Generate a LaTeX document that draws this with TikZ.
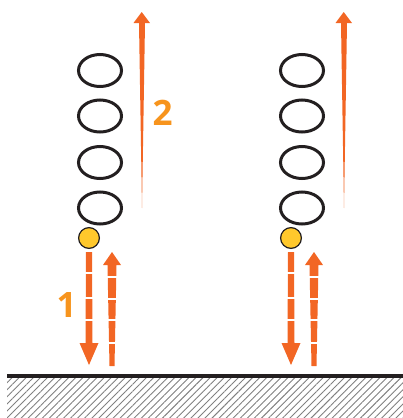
\documentclass[tikz,border=0pt]{standalone}
\usepackage{fontspec}
\setmainfont{Open Sans}
\usepackage{tikz}
\usetikzlibrary{arrows.meta, patterns.meta}
\usepackage{xcolor}

\definecolor{arroworange}{HTML}{F26624}
\definecolor{labelorange}{HTML}{F7941D}
\definecolor{balls}{HTML}{FFC82C}
\definecolor{ink}{HTML}{231F20}

\begin{document}
\begin{tikzpicture}[x=1pt, y=-1pt,
		ring/.style={draw=ink, line width=3pt},
		ball/.style={draw=ink, fill=balls, line width=1.2pt},
		beam/.style={fill=arroworange},
		gap/.style={white, line width=2pt},
		num/.style={text=labelorange, inner sep=0pt, font=\fontsize{35}{35}\selectfont\bfseries}]

			\useasboundingbox (0,0) rectangle (403,418);

			% ground
			\fill[pattern={Lines[angle=45, distance=5pt, line width=0.9pt]}, pattern color=gray] (7,378) rectangle (403,418);
			\draw[ink, line width=3.3pt] (7,376) -- (403,376);

			\begin{scope}
				\foreach \y in {70.5, 116, 162.5, 208}
					\draw[ring] (100,\y) ellipse (21.5 and 16);
				\draw[ball] (89,238) circle (10.4);
				% long arrow
				\fill[beam] (142,208) -- (139,23) -- (133.5,23) -- (141.7,12) -- (150,23) -- (145,23) -- cycle;
				\node[num] (two) at (162.5,112.5) {2};
				% fall
				\fill[beam] (86,252) -- (92,252) -- (92.5,343) -- (98.5,343) -- (89,365) -- (79.5,343) -- (85.5,343) -- cycle;
				\foreach \y in {273, 298, 320}
					\draw[gap] (78,\y) -- (100,\y);
				% bounce
				\fill[beam] (109.5,366) -- (114.5,366) -- (116.5,265) -- (121,265) -- (112,252) -- (103,265) -- (107.5,265) -- cycle;
				\foreach \y in {277, 299, 320, 343}
					\draw[gap] (102,\y) -- (122,\y);
				\node[num] (one) at (66.5,305) {1};
			\end{scope}

			\begin{scope}[xshift=202pt]
				\foreach \y in {70.5, 116, 162.5, 208}
					\draw[ring] (100,\y) ellipse (21.5 and 16);
				\draw[ball] (89,238) circle (10.4);
				% long arrow
				\fill[beam] (142,208) -- (139,23) -- (133.5,23) -- (141.7,12) -- (150,23) -- (145,23) -- cycle;
				% fall
				\fill[beam] (86,252) -- (92,252) -- (92.5,343) -- (98.5,343) -- (89,365) -- (79.5,343) -- (85.5,343) -- cycle;
				\foreach \y in {273, 298, 320}
					\draw[gap] (78,\y) -- (100,\y);
				% bounce
				\fill[beam] (109.5,366) -- (114.5,366) -- (116.5,265) -- (121,265) -- (112,252) -- (103,265) -- (107.5,265) -- cycle;
				\foreach \y in {277, 299, 320, 343}
					\draw[gap] (102,\y) -- (122,\y);
			\end{scope}
		\end{tikzpicture}
\end{document}
